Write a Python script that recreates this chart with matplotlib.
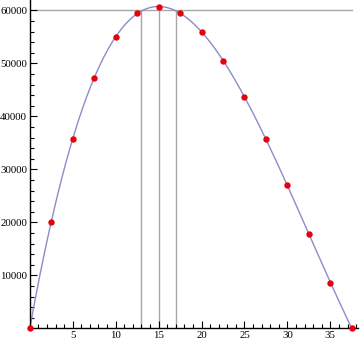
import numpy as np
import matplotlib
matplotlib.use("Agg")
import matplotlib.pyplot as plt
from matplotlib.ticker import MultipleLocator

# Data
t = [0, 2.5, 5, 7.5, 10, 12.5, 15, 17.5, 20, 22.5, 25, 27.5, 30, 32.5, 35, 37.5]
h = [0, 20100, 35700, 47300, 55000, 59400, 60700, 59550, 55900, 50430,
     43640, 35700, 27040, 17790, 8600, 0]
h_ref = 60000
v_lines = [13, 15, 17]
x_ticks = [5, 10, 15, 20, 25, 30, 35]
y_ticks = [10000, 20000, 30000, 40000, 50000, 60000]

W, H = 360, 344
fig = plt.figure(figsize=(W / 100, H / 100), dpi=100)
left, bottom, right, top = 29.8, 15.7, 358, 344
ax = fig.add_axes([left / W, bottom / H, (right - left) / W, (top - bottom) / H])
ax.set_xlim(0, (right - left) / 8.587)
ax.set_ylim(0, 60000 + (top - 15.7 - 318) / 53 * 10000 + 60000 - 60000)
ax.set_ylim(0, (top - bottom) / 318 * 60000)

# smooth fitted curve
coef = np.polyfit(t, h, 4)
xs = np.linspace(min(t), max(t), 400)
ys = np.polyval(coef, xs)
ax.plot(xs, ys, color="#8c8cc8", lw=1.0, zorder=2, clip_on=False)

# reference lines
ax.plot([0, max(t)], [h_ref, h_ref], color="#a8a8a8", lw=1.0, zorder=1)
for xv in v_lines:
    ax.plot([xv, xv], [0, np.polyval(coef, xv)], color="#a8a8a8", lw=1.0, zorder=1)

ax.plot(t, h, "o", color="#e8000c", ms=4.6, mec="none", zorder=3, clip_on=False)

for s in ["top", "right"]:
    ax.spines[s].set_visible(False)
for s in ["left", "bottom"]:
    ax.spines[s].set_linewidth(1.0)
    ax.spines[s].set_color("black")

ax.set_xticks(x_ticks)
ax.set_yticks(y_ticks)
ax.xaxis.set_minor_locator(MultipleLocator(1))
ax.yaxis.set_minor_locator(MultipleLocator(2000))
ax.tick_params(which="both", direction="in", color="black", width=0.8)
ax.tick_params(which="major", length=5, labelsize=7.8, pad=2)
ax.tick_params(which="minor", length=3)
for lab in ax.get_xticklabels() + ax.get_yticklabels():
    lab.set_fontfamily("Liberation Serif")

fig.savefig("out.png", dpi=100)
